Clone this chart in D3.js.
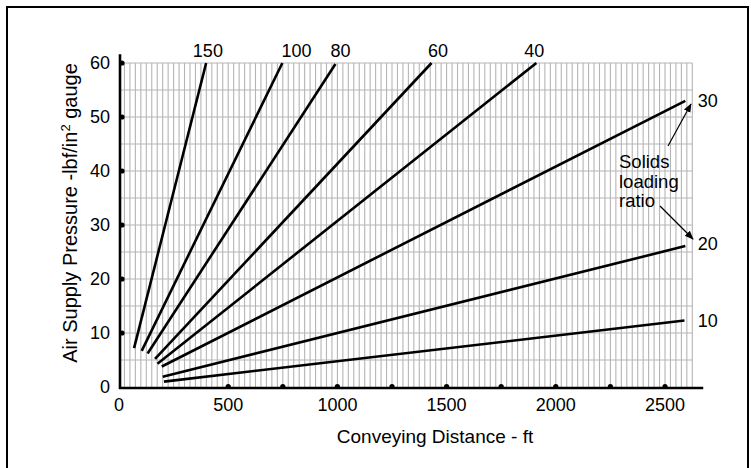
<!DOCTYPE html>
<html>
<head>
<meta charset="utf-8">
<script src="https://cdn.jsdelivr.net/npm/d3@7"></script>
<style>
  body { margin: 0; background: #fff; }
  svg { display: block; font-family: "Liberation Sans", Arial, sans-serif; }
</style>
</head>
<body>
<div id="chart"></div>
<script>
// solids loading ratio curves: [distance ft, pressure lbf/in2]
const ratios = [150, 100, 80, 60, 40, 30, 20, 10];
const startPoints = [[69, 7.2], [104, 6.7], [131, 6.2], [165, 5.2], [176, 4.3], [196, 3.8], [200, 1.9], [206, 1.0]];
const endPoints = [[399, 60], [748, 60], [991, 59.8], [1431, 60], [1911, 60], [2593, 53], [2593, 26.1], [2589, 12.3]];
// where the ratio labels sit (ft, lbf/in2)
const labelPoints = [[407, 61.1], [813, 61.1], [1014, 61.1], [1461, 61.1], [1901, 61.1], [2650, 53], [2650, 26.6], [2650, 12.4]];
const xTicks = [0, 500, 1000, 1500, 2000, 2500];
const yTicks = [0, 10, 20, 30, 40, 50, 60];
const xDots = [500, 750, 1000, 1250, 1500, 1750, 2000, 2250, 2500];
const yDots = [10, 20, 30, 40, 50, 60];

const width = 751, height = 468;

const svg = d3.select('#chart')
  .append('svg')
  .attr('width', width)
  .attr('height', height);

// outer frame
svg.append('rect')
  .attr('x', 7).attr('y', 7)
  .attr('width', 741).attr('height', 480)
  .attr('fill', 'none')
  .attr('stroke', '#000')
  .attr('stroke-width', 2);

const x = d3.scaleLinear().domain([0, 2500]).range([119, 665]);
const y = d3.scaleLinear().domain([0, 60]).range([387, 63]);

// grid
const grid = svg.append('g').attr('stroke', '#b5b5b5').attr('stroke-width', 1.1);
grid.selectAll('.vg')
  .data(d3.range(25, 2626, 25))
  .enter().append('line')
  .attr('x1', d => x(d)).attr('x2', d => x(d))
  .attr('y1', y(60)).attr('y2', y(0));
grid.selectAll('.hg')
  .data(d3.range(5, 61, 5))
  .enter().append('line')
  .attr('x1', x(0)).attr('x2', x(2625))
  .attr('y1', d => y(d)).attr('y2', d => y(d));

// axes
svg.append('line')
  .attr('x1', 120).attr('x2', 120)
  .attr('y1', y(61.6)).attr('y2', y(0) + 2)
  .attr('stroke', '#000').attr('stroke-width', 2.6);
svg.append('line')
  .attr('x1', 119).attr('x2', x(2675))
  .attr('y1', y(0) + 1).attr('y2', y(0) + 1)
  .attr('stroke', '#000').attr('stroke-width', 2.6);

svg.selectAll('.ydot')
  .data(yDots)
  .enter().append('circle')
  .attr('cx', 122).attr('cy', d => y(d)).attr('r', 2.6);
svg.selectAll('.xdot')
  .data(xDots)
  .enter().append('circle')
  .attr('cx', d => x(d)).attr('cy', y(0) - 0.5).attr('r', 2.6);

svg.selectAll('.ylab')
  .data(yTicks)
  .enter().append('text')
  .attr('x', 110).attr('y', d => y(d))
  .attr('dy', '0.36em')
  .attr('text-anchor', 'end')
  .attr('font-size', 18)
  .text(d => d);
svg.selectAll('.xlab')
  .data(xTicks)
  .enter().append('text')
  .attr('x', d => x(d)).attr('y', 411)
  .attr('text-anchor', 'middle')
  .attr('font-size', 18)
  .text(d => d);

svg.append('text')
  .attr('x', 435).attr('y', 443)
  .attr('text-anchor', 'middle')
  .attr('font-size', 19)
  .text('Conveying Distance - ft');

const yTitle = svg.append('text')
  .attr('transform', 'translate(77, 213) rotate(-90)')
  .attr('text-anchor', 'middle')
  .attr('font-size', 20);
yTitle.append('tspan').text('Air Supply Pressure -lbf/in');
yTitle.append('tspan').attr('font-size', 13).attr('dy', -7).text('2');
yTitle.append('tspan').attr('dy', 7).text(' gauge');

// curves
const line = d3.line().x(d => x(d[0])).y(d => y(d[1]));
svg.selectAll('.curve')
  .data(ratios.map((r, i) => [startPoints[i], endPoints[i]]))
  .enter().append('path')
  .attr('d', line)
  .attr('fill', 'none')
  .attr('stroke', '#000')
  .attr('stroke-width', 2.6);

// ratio labels: centred above the steep curves, left-aligned right of the flat ones
svg.selectAll('.rlab')
  .data(ratios)
  .enter().append('text')
  .attr('x', (d, i) => x(labelPoints[i][0]))
  .attr('y', (d, i) => y(labelPoints[i][1]))
  .attr('dy', (d, i) => i < 5 ? 0 : '0.36em')
  .attr('text-anchor', (d, i) => i < 5 ? 'middle' : 'start')
  .attr('font-size', 18)
  .text(d => d);

// annotation
svg.append('defs').append('marker')
  .attr('id', 'arrow')
  .attr('viewBox', '0 0 10 10')
  .attr('refX', 9).attr('refY', 5)
  .attr('markerWidth', 9).attr('markerHeight', 9)
  .attr('markerUnits', 'userSpaceOnUse')
  .attr('orient', 'auto')
  .append('path')
  .attr('d', 'M0,1 L10,5 L0,9 Z')
  .attr('fill', '#000');

const note = svg.append('text')
  .attr('x', 619).attr('y', 168)
  .attr('font-size', 18.5);
['Solids', 'loading', 'ratio'].forEach((t, i) => {
  note.append('tspan').attr('x', 619).attr('dy', i ? 19.5 : 0).text(t);
});

svg.append('line')
  .attr('x1', 668).attr('y1', 146).attr('x2', 691).attr('y2', 104)
  .attr('stroke', '#000').attr('stroke-width', 1.2)
  .attr('marker-end', 'url(#arrow)');
svg.append('line')
  .attr('x1', 660).attr('y1', 206).attr('x2', 693).attr('y2', 239)
  .attr('stroke', '#000').attr('stroke-width', 1.2)
  .attr('marker-end', 'url(#arrow)');
</script>
</body>
</html>
